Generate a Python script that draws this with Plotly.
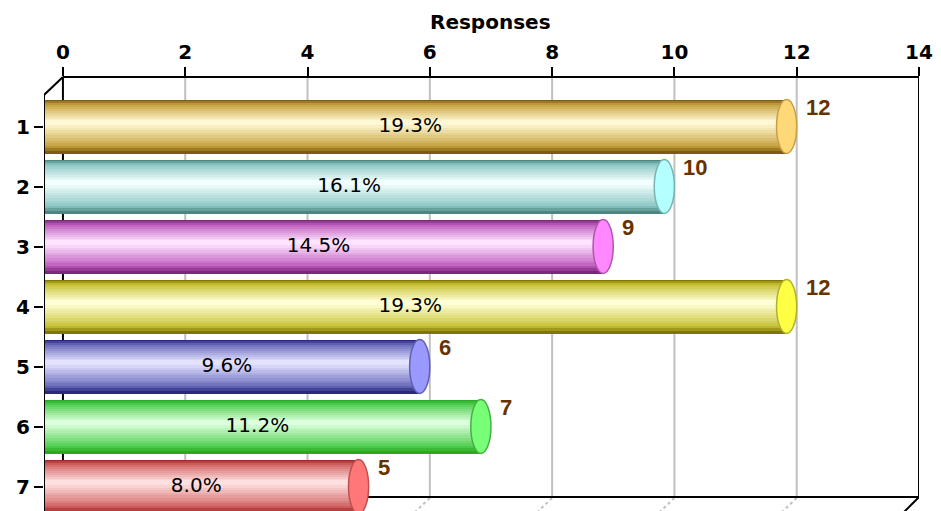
import plotly.graph_objects as go

# ---------------- data ----------------
categories = [1, 2, 3, 4, 5, 6, 7]
category_labels = ["1", "2", "3", "4", "5", "6", "7"]
responses = [12, 10, 9, 12, 6, 7, 5]
percent_labels = ["19.3%", "16.1%", "14.5%", "19.3%", "9.6%", "11.2%", "8.0%"]
x_tick_values = [0, 2, 4, 6, 8, 10, 12, 14]
x_tick_labels = ["0", "2", "4", "6", "8", "10", "12", "14"]
axis_title = "Responses"

# ---------------- styles ----------------
# (dark edge, mid, light centre, cap fill, cap line)
palettes = [
    ("#7a5c14", "#c49d38", "#fff8d4", "#ffd877", "#c8a048"),
    ("#4d8580", "#86c4c0", "#f2ffff", "#b4ffff", "#78b4b0"),
    ("#7a2878", "#b955b9", "#ffe4ff", "#ff88ff", "#b055b0"),
    ("#7e7800", "#c4c030", "#ffffd6", "#ffff44", "#b0b030"),
    ("#2a2a7a", "#6464b8", "#e2e2ff", "#9999ff", "#6060b0"),
    ("#28aa28", "#4ccc4c", "#dcffdc", "#77ff77", "#44b044"),
    ("#a02828", "#d06060", "#ffe0e0", "#ff7777", "#c05050"),
]

W, H = 941, 511
OFF = 8  # page body margin
# target page-pixel geometry of the plotting area
PAGE_L, PAGE_R, PAGE_T, PAGE_B = 41, 919, 77, 511
L = PAGE_L - OFF
T = PAGE_T - OFF
R = W - (PAGE_R - OFF)
B = H - (PAGE_B - OFF)
plot_w = PAGE_R - PAGE_L
plot_h = PAGE_B - PAGE_T
X_MIN = -0.3096
X_MAX = 14
PX = plot_w / (X_MAX - X_MIN)          # pixels per unit
DEPTH = 19 / PX                        # 3D depth in data units
Y_RANGE = [7.408, 0.175]
BASE = -0.29
CAP = 0.165
BAR_W = 0.9


def py2p(py):
    """page pixel y -> paper fraction"""
    return (PAGE_B - py) / plot_h


def hex2rgb(h):
    h = h.lstrip("#")
    return tuple(int(h[i:i + 2], 16) for i in (0, 2, 4))


def mix(c1, c2, t):
    a, b = hex2rgb(c1), hex2rgb(c2)
    return "rgb(%d,%d,%d)" % tuple(round(a[i] + (b[i] - a[i]) * t) for i in range(3))


def shade(p, t):
    dark, mid, light = p[0], p[1], p[2]
    if t < 0.2:
        return mix(dark, mid, t / 0.2)
    return mix(mid, light, ((t - 0.2) / 0.8) ** 0.9)


fig = go.Figure()

# layered bars to give the cylinder shading
N = 12
h = -0.07  # highlight centre (screen-up negative)
for k in range(N):
    t = k / (N - 1)
    top = -BAR_W / 2 + (h + BAR_W / 2) * (k / N)
    bot = BAR_W / 2 - (BAR_W / 2 - h) * (k / N)
    fig.add_trace(go.Bar(
        orientation="h",
        y=categories,
        x=[v - CAP - BASE for v in responses],
        base=BASE,
        width=bot - top,
        offset=top,
        marker=dict(color=[shade(p, t) for p in palettes], line=dict(width=0)),
        hoverinfo="skip",
        showlegend=False,
    ))

# percentage labels
fig.add_trace(go.Scatter(
    x=[(X_MIN + v - 2 * CAP) / 2 for v in responses],
    y=categories,
    mode="text",
    text=percent_labels,
    textposition="middle center",
    textfont=dict(family="DejaVu Sans", size=20, color="#000000"),
    hoverinfo="skip",
    showlegend=False,
))

shapes = []
# grid lines on back wall
for t in x_tick_values[1:-1]:
    shapes.append(dict(type="line", xref="x", yref="paper", x0=t, x1=t,
                       y0=py2p(77), y1=py2p(497), layer="below",
                       line=dict(color="#c0c0c0", width=2)))
    shapes.append(dict(type="line", xref="x", yref="paper", x0=t, x1=t - DEPTH,
                       y0=py2p(498), y1=py2p(516), layer="below",
                       line=dict(color="#c0c0c0", width=2, dash="dot")))
# back wall frame
for t in (x_tick_values[0], x_tick_values[-1]):
    shapes.append(dict(type="line", xref="x", yref="paper", x0=t, x1=t,
                       y0=py2p(77), y1=py2p(497), layer="below",
                       line=dict(color="#000000", width=2)))
shapes.append(dict(type="line", xref="x", yref="paper", x0=0, x1=14,
                   y0=py2p(77), y1=py2p(77), layer="below",
                   line=dict(color="#000000", width=2)))
shapes.append(dict(type="line", xref="x", yref="paper", x0=0, x1=14,
                   y0=py2p(497), y1=py2p(497), layer="below",
                   line=dict(color="#000000", width=2)))
shapes.append(dict(type="line", xref="x", yref="paper", x0=14, x1=14 - DEPTH,
                   y0=py2p(497), y1=py2p(516), layer="below",
                   line=dict(color="#000000", width=2)))
# front left edge and corner
shapes.append(dict(type="line", xref="x", yref="paper", x0=X_MIN, x1=X_MIN,
                   y0=py2p(95), y1=py2p(511), layer="below",
                   line=dict(color="#000000", width=2)))
shapes.append(dict(type="line", xref="x", yref="paper", x0=X_MIN, x1=0,
                   y0=py2p(95), y1=py2p(77), layer="below",
                   line=dict(color="#000000", width=2)))

# cylinder end caps
for c, v, p in zip(categories, responses, palettes):
    shapes.append(dict(type="circle", xref="x", yref="y",
                       x0=v - 2 * CAP, x1=v, y0=c - BAR_W / 2, y1=c + BAR_W / 2,
                       fillcolor=p[3], line=dict(color=p[4], width=1.5)))

annotations = []
for c, v in zip(categories, responses):
    annotations.append(dict(x=v, y=c, xref="x", yref="y", text=str(v),
                            showarrow=False, xanchor="left", yanchor="middle",
                            xshift=7, yshift=19,
                            font=dict(family="Liberation Sans", size=22,
                                      color="#663300", weight="bold")))
annotations.append(dict(x=7, y=py2p(22), xref="x", yref="paper", text=axis_title,
                        showarrow=False, xanchor="center", yanchor="middle",
                        font=dict(family="DejaVu Sans", size=20, color="#000000",
                                  weight="bold")))

fig.update_layout(
    width=W, height=H,
    margin=dict(l=L, r=R, t=T, b=B, pad=0),
    paper_bgcolor="#ffffff", plot_bgcolor="#ffffff",
    barmode="overlay",
    bargap=0,
    shapes=shapes,
    annotations=annotations,
    showlegend=False,
    xaxis=dict(
        side="top", range=[X_MIN, X_MAX],
        tickmode="array", tickvals=x_tick_values, ticktext=x_tick_labels,
        ticks="outside", ticklen=9, tickwidth=2, tickcolor="#000000",
        tickfont=dict(family="DejaVu Sans", size=20, color="#000000", weight="bold"),
        showgrid=False, zeroline=False, showline=False,
    ),
    yaxis=dict(
        range=Y_RANGE,
        tickmode="array", tickvals=categories, ticktext=category_labels,
        ticks="outside", ticklen=9, tickwidth=2, tickcolor="#000000",
        tickfont=dict(family="DejaVu Sans", size=20, color="#000000", weight="bold"),
        showgrid=False, zeroline=False, showline=False,
    ),
)

fig.write_html("out.html")
